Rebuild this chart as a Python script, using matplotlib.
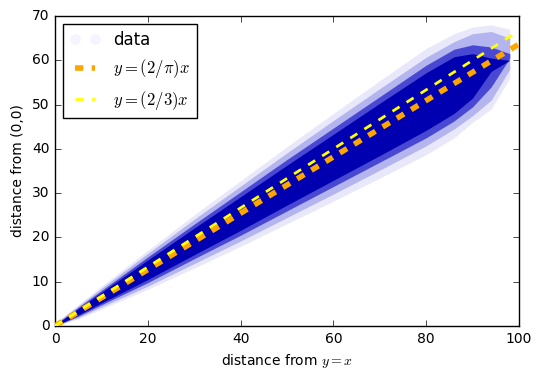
import numpy as np
import matplotlib
matplotlib.use("Agg")
import matplotlib.pyplot as plt

plt.style.use("classic")
plt.rcParams["figure.facecolor"] = "white"
plt.rcParams["savefig.facecolor"] = "white"
plt.rcParams["font.family"] = ["DejaVu Sans"]

# envelope of the point cloud
env_x = [0, 5, 10, 20, 30, 40, 50, 60, 70, 80, 86, 90, 94, 98]
outer_hi = [0.7, 4.8, 9.0, 17.1, 25.1, 32.8, 40.5, 48.0, 55.4, 62.7, 66.0, 67.5, 68.0, 67.0]
outer_lo = [0.0, 1.6, 3.8, 8.3, 13.1, 18.0, 23.1, 28.2, 33.4, 38.7, 42.5, 46.0, 49.0, 56.0]
faint_hi = [0.5, 4.5, 8.5, 16.4, 24.1, 31.6, 39.1, 46.4, 53.6, 60.7, 64.2, 66.0, 66.5, 65.0]
faint_lo = [0.0, 1.9, 4.3, 9.0, 14.1, 19.2, 24.5, 29.8, 35.2, 40.7, 44.5, 47.5, 51.0, 58.0]
mid_hi = [0.3, 4.2, 8.0, 15.6, 23.0, 30.3, 37.6, 44.7, 51.8, 58.9, 62.5, 63.5, 63.0, 61.5]
mid_lo = [0.0, 2.2, 4.8, 9.8, 15.2, 20.5, 26.0, 31.5, 37.0, 42.5, 46.3, 49.5, 54.0, 60.5]
core_hi = [0.15, 3.9, 7.6, 14.9, 22.1, 29.2, 36.3, 43.3, 50.3, 57.2, 60.8, 61.5, 60.5, 60.0]
core_lo = [0.0, 2.5, 5.2, 10.5, 16.1, 21.6, 27.3, 32.9, 38.5, 44.2, 48.0, 51.5, 57.5, 60.0]

# reference lines
line_x = [0, 100]
slope_pi = 2 / np.pi
slope_23 = 2 / 3

fig = plt.figure(figsize=(5.42, 3.81), dpi=100)
ax = fig.add_axes([0.1015, 0.1444, 0.8561, 0.8136])

ax.fill_between(env_x, outer_lo, outer_hi, color="#e8e8fa", lw=0, zorder=1)
ax.fill_between(env_x, faint_lo, faint_hi, color="#b4b4ee", lw=0, zorder=1)
ax.fill_between(env_x, mid_lo, mid_hi, color="#4848d2", lw=0, zorder=1)
ax.fill_between(env_x, core_lo, core_hi, color="#0000b0", lw=0, zorder=1)
ax.plot([], [], "o", color="b", mec="b", alpha=0.04, ms=7, label="data")

lx = np.array(line_x, dtype=float)
ax.plot(lx, slope_pi * lx, "--", color="orange", lw=4, label=r"$y=(2/\pi)x$", zorder=3)
ax.plot(lx, slope_23 * lx, "--", color="yellow", lw=2, label=r"$y=(2/3)x$", zorder=4)

ax.set_xlim(0, 100)
ax.set_ylim(0, 70)
ax.set_xticks([0, 20, 40, 60, 80, 100])
ax.set_yticks([0, 10, 20, 30, 40, 50, 60, 70])
ax.tick_params(labelsize=10)
ax.set_xlabel(r"distance from $y=x$", fontsize=10)
ax.set_ylabel("distance from (0,0)", fontsize=10)

leg = ax.legend(loc="upper left", numpoints=2, fontsize=12, handlelength=1.8)

fig.savefig("out.png", dpi=100)
